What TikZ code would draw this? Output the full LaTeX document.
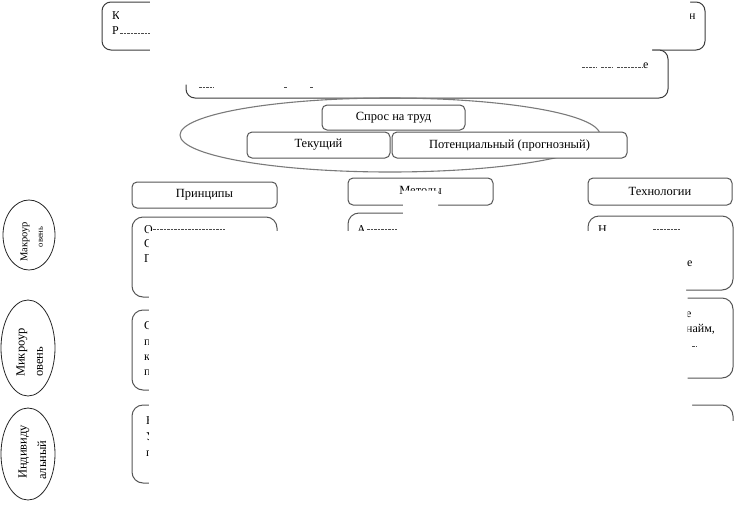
\documentclass[tikz,border=0pt]{standalone}
\usepackage{fontspec}
\setmainfont{Liberation Serif}
\usetikzlibrary{shapes.geometric}
\definecolor{bd}{HTML}{555555}
\definecolor{bdt}{HTML}{3C3C3C}
\definecolor{ell}{HTML}{7A7A7A}
\begin{document}
\begin{tikzpicture}[x=1pt,y=-1pt,
  box/.style={draw=bd, line width=1pt, fill=white, rounded corners=5pt, inner sep=0pt, font=\fontsize{12.5}{14}\selectfont},
  cbox/.style={box, rounded corners=11pt},
  tbox/.style={box, draw=bdt, rounded corners=9pt},
  oval/.style={draw=black!85, line width=0.8pt, ellipse, inner sep=0pt},
  frag/.style={draw=black!70, line width=0.9pt, dash pattern=on 2.5pt off 1pt},
  ftxt/.style={inner sep=0pt, anchor=base west, font=\fontsize{12}{13}\selectfont},
  vtxt/.style={inner sep=0pt, rotate=90},
  occl/.style={fill=white, draw=none}]
\useasboundingbox (0,0) rectangle (736,504);

% top boxes
\node[tbox, minimum width=603pt, minimum height=48pt] (top1) at (403.5,26) {};
\node[tbox, minimum width=482pt, minimum height=48pt] (top2) at (427,74) {};

% demand ellipse
\node[draw=ell, line width=1.1pt, ellipse, minimum width=420pt, minimum height=74pt, inner sep=0pt] (demand) at (390,135) {};

\node[box, minimum width=143pt, minimum height=25pt] (spros) at (393.5,117.5) {Спрос на труд};
\node[box, minimum width=143pt, minimum height=26pt] (tek) at (318.5,145) {Текущий};
\node[box, minimum width=235pt, minimum height=26pt] (pot) at (509.5,145) {Потенциальный (прогнозный)};

% column headers
\node[box, minimum width=145pt, minimum height=26pt] (princ) at (204.5,195) {Принципы};
\node[box, minimum width=145pt, minimum height=27pt] (metod) at (420.5,191.5) {Методы};
\node[box, minimum width=144pt, minimum height=27pt] (techn) at (660,191.5) {Технологии};

% content boxes
\node[cbox, minimum width=145pt, minimum height=80pt] (c11) at (204.5,257) {};
\node[cbox, minimum width=145pt, minimum height=80pt] (c12) at (420.5,253) {};
\node[cbox, minimum width=145pt, minimum height=74pt] (c13) at (660.5,253) {};
\node[cbox, minimum width=145pt, minimum height=80pt] (c21) at (204.5,350) {};
\node[cbox, minimum width=145pt, minimum height=80pt] (c23) at (660.5,338) {};
\node[cbox, minimum width=145pt, minimum height=78pt] (c31) at (204.5,444) {};
\node[cbox, minimum width=145pt, minimum height=80pt] (c33) at (660.5,445) {};

% level ovals
\node[oval, minimum width=52pt, minimum height=70pt] (o1) at (29,235) {};
\node[oval, minimum width=54pt, minimum height=96pt] (o2) at (28,348) {};
\node[oval, minimum width=54pt, minimum height=92pt] (o3) at (28,454) {};
\node[vtxt, font=\fontsize{10.5}{11}\selectfont] (o1a) at (25,242) {Макроур};
\node[vtxt, font=\fontsize{8.5}{9}\selectfont] (o1b) at (41,237) {овень};
\node[vtxt, anchor=west, font=\fontsize{12.5}{14}\selectfont] (o2a) at (22,377) {Микроур};
\node[vtxt, anchor=west, font=\fontsize{12.5}{14}\selectfont] (o2b) at (40,377) {овень};
\node[vtxt, anchor=west, font=\fontsize{12.5}{14}\selectfont] (o3a) at (24,479) {Индивиду};
\node[vtxt, anchor=west, font=\fontsize{12.5}{14}\selectfont] (o3b) at (42,480) {альный};

% visible text fragments
\node[ftxt] (k1) at (112,19) {К};
\node[ftxt] (k2) at (112,34.5) {Р};
\node[ftxt] (k3) at (689,19) {н};
\node[ftxt] (b1) at (643,68.5) {е};
\node[ftxt] (p1) at (144,233) {О};
\node[ftxt] (p2) at (144,247.5) {С};
\node[ftxt] (p3) at (144,262) {П};
\node[ftxt] (m1) at (357,233) {А};
\node[ftxt] (t1) at (598,233) {Н};
\node[ftxt] (t2) at (687,266) {е};
\node[ftxt] (q1) at (144,329) {С};
\node[ftxt] (q2) at (144,345) {п};
\node[ftxt] (q3) at (144,360) {к};
\node[ftxt] (q4) at (144,375.5) {п};
\node[ftxt] (r1) at (686,317) {е};
\node[ftxt] (r2) at (686,332) {найм,};
\node[ftxt] (s1) at (146,424) {Н};
\node[ftxt] (s2) at (146,440) {У};
\node[ftxt] (s3) at (146,456) {п};

% letter fragments (parts of hidden words)
\draw[frag] (120,33.5) -- (150,33.5);
\draw[frag] (582,67.5) -- (597,67.5);
\draw[frag] (601,67.5) -- (613,67.5);
\draw[frag] (617,67.5) -- (642,67.5);
\draw[frag] (199,87) -- (214,87);
\draw[frag] (284,87) -- (287,87);
\draw[frag] (310,87) -- (313,87);
\draw[frag] (153,229.5) -- (225,229.5);
\draw[frag] (367,229.5) -- (397,229.5);
\draw[frag] (653,229.5) -- (680,229.5);
\draw[frag] (692,346) -- (696,346);

% occluding white areas
\fill[occl] (150,0) -- (690,0) -- (690,44) -- (652,44) -- (652,58) -- (643,58) -- (643,66) -- (580,66)
  -- (580,84.5) -- (150,84.5) -- (150,32) -- (119,32) -- (119,3) -- (150,3) -- cycle;
\fill[occl] (149,231) -- (403,231) -- (403,190.5) -- (438,190.5) -- (438,208) -- (586,208) -- (586,231)
  -- (686,231) -- (686,292) -- (687.5,292) -- (687.5,402) -- (692,402) -- (692,421) -- (736,421)
  -- (736,504) -- (149,504) -- cycle;
\end{tikzpicture}
\end{document}
